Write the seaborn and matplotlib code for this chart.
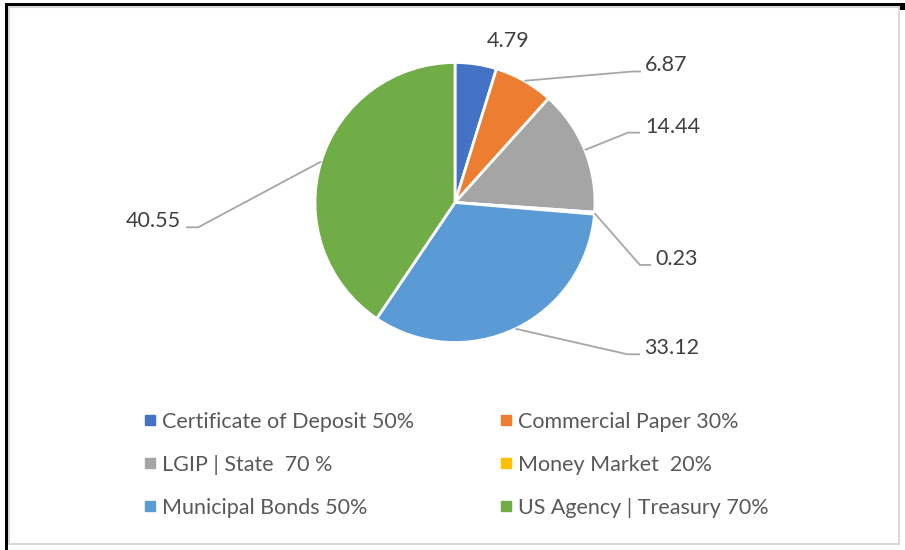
import matplotlib
matplotlib.use('Agg')
import matplotlib.pyplot as plt
from matplotlib.lines import Line2D
from matplotlib.patches import Rectangle
import numpy as np
import seaborn as sns

# data
categories = ["Certificate of Deposit 50%", "Commercial Paper 30%", "LGIP | State  70 %",
              "Money Market  20%", "Municipal Bonds 50%", "US Agency | Treasury 70%"]
values = [4.79, 6.87, 14.44, 0.23, 33.12, 40.55]
colors = ["#4472C4", "#ED7D31", "#A5A5A5", "#FFC000", "#5B9BD5", "#70AD47"]

sns.set_style("white")
plt.rcParams['font.family'] = ['Lato', 'DejaVu Sans']

W, H = 905, 550
cx, cy, R = 455, 202.5, 140
fig = plt.figure(figsize=(W / 100, H / 100), dpi=100)
ax = fig.add_axes([0, 0, 1, 1])

wedges, _ = ax.pie(values, colors=colors, startangle=90, counterclock=False, radius=1,
                   wedgeprops=dict(edgecolor='white', linewidth=2))
# pie resets the limits, so set them afterwards (1 unit = R pixels)
ax.set_xlim(-cx / R, (W - cx) / R)
ax.set_ylim(-(H - cy) / R, cy / R)
ax.set_aspect('equal')
ax.axis('off')

# label layout: (elbow, text baseline y, line end x, text x) in radius units
layout = [
    (None, 1.111, None, 0.379),
    ((1.271, 0.936), 0.936, 1.329, 1.357),
    ((1.236, 0.499), 0.499, 1.321, 1.357),
    ((1.321, -0.446), -0.446, 1.400, 1.430),
    ((1.231, -1.084), -1.084, 1.321, 1.350),
    ((-1.834, -0.177), -0.177, -1.921, -1.957),
]
line_col = "#A6A6A6"
txt_col = "#404040"
for w, v, (elbow, ty, endx, tx) in zip(wedges, values, layout):
    ang = np.deg2rad((w.theta1 + w.theta2) / 2)
    if elbow is None:
        ax.text(tx, ty, f"{v:.2f}", ha='center', va='baseline', fontsize=15.5, color=txt_col)
        continue
    px, py = np.cos(ang), np.sin(ang)
    ax.plot([px, elbow[0], endx], [py, elbow[1], ty], color=line_col, lw=1.3,
            solid_capstyle='butt')
    ha = 'left' if tx > 0 else 'right'
    ax.text(tx, ty, f"{v:.2f}", ha=ha, va='baseline', fontsize=15.5, color=txt_col)

# legend, filled row by row
order = [0, 2, 4, 1, 3, 5]
handles = [Line2D([], [], marker='s', ls='', color=colors[i], markersize=7) for i in order]
labels = [categories[i] for i in order]
leg = fig.legend(handles, labels, ncol=2, loc='center', bbox_to_anchor=(456 / W, 1 - 465 / H),
                 frameon=False, fontsize=15.5, handlelength=0.6, handletextpad=0.25,
                 columnspacing=4.0, labelspacing=1.07, labelcolor="#595959")

# frame like the source screenshot
fig.add_artist(Rectangle((9 / W, 1 - 544 / H), 890 / W, 537 / H, transform=fig.transFigure,
                         fill=False, edgecolor="#D9D9D9", lw=1.5))
fig.add_artist(Rectangle((5 / W, 1 - 6 / H), 900 / W, 3 / H, transform=fig.transFigure,
                         color='black', lw=0))
fig.add_artist(Rectangle((5 / W, 0), 3 / W, 1 - 3 / H, transform=fig.transFigure,
                         color='black', lw=0))
fig.add_artist(Rectangle((900 / W, 1 - 10 / H), 5 / W, 7 / H, transform=fig.transFigure,
                         color='black', lw=0))

fig.savefig("out.png", dpi=100)
plt.close(fig)
